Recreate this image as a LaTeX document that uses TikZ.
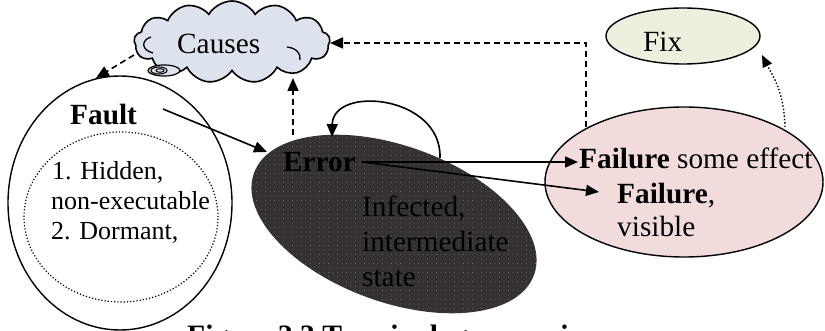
\documentclass[tikz,border=0pt]{standalone}
\usepackage{fontspec}
\setmainfont{Liberation Serif}
\usetikzlibrary{shapes.geometric,shapes.symbols,arrows.meta,patterns.meta}
\definecolor{cloudfill}{HTML}{DCE3ED}
\definecolor{failfill}{HTML}{F2DCDB}
\definecolor{fixfill}{HTML}{EBF1DE}
\definecolor{errfill}{HTML}{353131}
\definecolor{errdot}{HTML}{8A8787}
\begin{document}
\begin{tikzpicture}[x=1pt,y=-1pt,
  lbl/.style={inner sep=0pt, anchor=base west, font=\fontsize{29.3}{35}\selectfont},
  lblb/.style={inner sep=0pt, anchor=base west, font=\fontsize{29.3}{35}\selectfont\bfseries},
  small/.style={inner sep=0pt, anchor=base west, font=\fontsize{26}{30}\selectfont},
  outline/.style={ellipse, draw, line width=1.4pt, inner sep=0pt},
  solidarrow/.style={line width=1.6pt, -{Triangle[length=13pt,width=11pt]}},
  dasharrow/.style={line width=1.6pt, dash pattern=on 6pt off 4pt, -{Triangle[length=13pt,width=11pt]}},
  dotarrow/.style={line width=1.4pt, dotted, -{Triangle[length=12pt,width=10pt]}},
]
\useasboundingbox (0,0) rectangle (825,331);
\clip (0,0) rectangle (825,331);

% Fault
\node[outline, minimum width=224pt, minimum height=254pt] (fault) at (120,203) {};
\node[ellipse, draw, dotted, line width=1.2pt, inner sep=0pt, minimum width=194pt, minimum height=170pt] (faultin) at (121,217) {};
\node[lblb] (faultt) at (70,125) {Fault};
\node[small] (l1) at (52,180) {1. Hidden,};
\node[small] (l2) at (51,210) {non-executable};
\node[small] (l3) at (51,240) {2. Dormant,};

% Error
\node[ellipse, rotate=-20, inner sep=0pt, minimum width=298pt, minimum height=156pt,
      preaction={fill=errfill}, pattern={Dots[distance=4.5pt, radius=0.35pt]}, pattern color=errdot] (error) at (394,224) {};
\node[lblb] (errt) at (283,172) {Error};
\node[lbl, text=black] (i1) at (362,217) {Infected,};
\node[lbl, text=black] (i2) at (362,252) {intermediate};
\node[lbl, text=black] (i3) at (362,287) {state};

% Failure
\node[outline, fill=failfill, minimum width=278pt, minimum height=150pt] (failure) at (684,182) {};
\node[lbl] (f1) at (579,169) {\textbf{Failure} some effect};
\node[lbl] (f2) at (617,204) {\textbf{Failure},};
\node[lbl] (f3) at (617,237) {visible};

% Fix
\node[outline, fill=fixfill, minimum width=154pt, minimum height=56pt] (fix) at (683,36) {};
\node[lbl] (fixt) at (643,52) {Fix};

% Causes cloud
\node[cloud, cloud puffs=13, cloud puff arc=120, cloud ignores aspect, draw, line width=1.6pt, fill=cloudfill,
      minimum width=196pt, minimum height=82pt, inner sep=0pt] (cloud) at (232,42) {};
\draw[line width=1.3pt] (151,37) .. controls (141,40) and (141,50) .. (153,53);
\draw[line width=1.3pt] (287,47) .. controls (296,48) and (301,53) .. (300,60);
\draw[line width=1.2pt, fill=cloudfill] (164,70.5) ellipse [x radius=16, y radius=5.5];
\draw[line width=1.1pt] (159,70.5) ellipse [x radius=8, y radius=3.5];
\draw[line width=1pt] (160,70.5) ellipse [x radius=4, y radius=1.8];
\node[lbl] (causes) at (177,54) {Causes};

% connector end points
\coordinate (faultOut) at (163,109);
\coordinate (errIn) at (267,152);
\coordinate (errOut) at (362,162);
\coordinate (failIn1) at (578,162);
\coordinate (failIn2) at (599,192);
\coordinate (loopS) at (440,158);
\coordinate (loopE) at (332,137);
\coordinate (errTop) at (293,135);
\coordinate (cloudBot) at (293,78);
\coordinate (cloudL) at (134,55);
\coordinate (faultTop) at (96,78);
\coordinate (failTL) at (586,127);
\coordinate (cloudR) at (330,43);
\coordinate (failTR) at (785,127);
\coordinate (fixBR) at (762,55);

\draw[solidarrow] (faultOut) -- (errIn);
\draw[solidarrow] (errOut) -- (failIn1);
\draw[solidarrow] (errOut) -- (failIn2);
\draw[solidarrow] (loopS) .. controls (442,95) and (333,85) .. (loopE);
\draw[dasharrow] (errTop) -- (cloudBot);
\draw[dasharrow] (cloudL) -- (faultTop);
\draw[dasharrow] (failTL) |- (cloudR);
\draw[dotarrow] (failTR) .. controls (784,90) and (772,75) .. (fixBR);

% caption
\node[inner sep=0pt, anchor=base west, font=\fontsize{29.6}{35}\selectfont\bfseries] (caption) at (187,345.6) {Figure 2.3 Terminology overview};
\end{tikzpicture}
\end{document}
